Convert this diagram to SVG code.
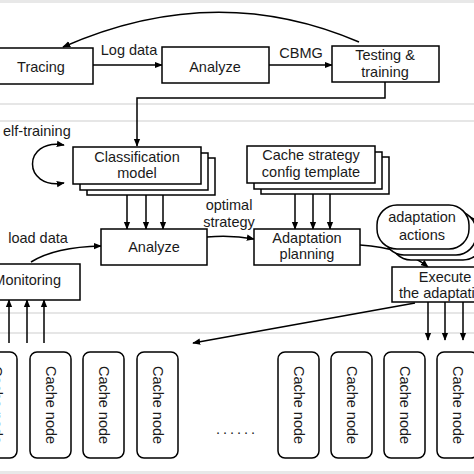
<svg xmlns="http://www.w3.org/2000/svg" width="474" height="474" viewBox="0 0 474 474">
<style>
.box{fill:#fff;stroke:#000;stroke-width:1.5}
.ln{fill:none;stroke:#000;stroke-width:1.5}
.t{font-family:"Liberation Sans",Arial,sans-serif;font-size:14.5px;fill:#1a1a1a;text-anchor:middle}
.g{stroke:#e6e6e6;stroke-width:2}
</style>
<defs>
<marker id="ah" viewBox="0 0 10 10" refX="9" refY="5" markerWidth="8" markerHeight="8" markerUnits="userSpaceOnUse" orient="auto-start-reverse">
<path d="M0,1 L10,5 L0,9 z" fill="#000"/>
</marker>
</defs>
<rect x="0" y="0" width="474" height="474" fill="#fff"/>
<g id="background">
<rect x="0" y="0" width="474" height="3" fill="#e8e8e8"/>
<line class="g" x1="0" y1="104" x2="474" y2="104"/>
<line class="g" x1="0" y1="121" x2="474" y2="121"/>
<line class="g" x1="0" y1="313" x2="474" y2="313"/>
<line class="g" x1="0" y1="333" x2="474" y2="333"/>
<rect x="0" y="471" width="474" height="3" fill="#e8e8e8"/>
</g>
<g id="connectors">
<path class="ln" d="M359 42 Q215 -20 63 47" marker-end="url(#ah)"/>
<line class="ln" x1="93" y1="65" x2="162" y2="65" marker-end="url(#ah)"/>
<line class="ln" x1="269" y1="65" x2="332" y2="65" marker-end="url(#ah)"/>
<path class="ln" d="M385 82 V98 H137 V146" marker-end="url(#ah)"/>
<path class="ln" d="M64 145 C22 138 22 190 64 183" marker-start="url(#ah)" marker-end="url(#ah)"/>
<line class="ln" x1="127" y1="195" x2="127" y2="229" marker-end="url(#ah)"/>
<line class="ln" x1="146" y1="195" x2="146" y2="229" marker-end="url(#ah)"/>
<line class="ln" x1="163" y1="195" x2="163" y2="229" marker-end="url(#ah)"/>
<line class="ln" x1="295" y1="194" x2="295" y2="229" marker-end="url(#ah)"/>
<line class="ln" x1="313" y1="194" x2="313" y2="229" marker-end="url(#ah)"/>
<line class="ln" x1="330" y1="194" x2="330" y2="229" marker-end="url(#ah)"/>
<path class="ln" d="M31 262 Q55 247 101 246" marker-end="url(#ah)"/>
<path class="ln" d="M207 237 Q232 235 254 239" marker-end="url(#ah)"/>
<path class="ln" d="M360 245 Q405 248 428 267" marker-end="url(#ah)"/>
<line class="ln" x1="9" y1="343" x2="9" y2="300" marker-end="url(#ah)"/>
<line class="ln" x1="27" y1="343" x2="27" y2="300" marker-end="url(#ah)"/>
<line class="ln" x1="44" y1="343" x2="44" y2="300" marker-end="url(#ah)"/>
<line class="ln" x1="428" y1="302" x2="428" y2="340" marker-end="url(#ah)"/>
<line class="ln" x1="445" y1="302" x2="445" y2="340" marker-end="url(#ah)"/>
<line class="ln" x1="463" y1="302" x2="463" y2="340" marker-end="url(#ah)"/>
<line class="ln" x1="415" y1="303" x2="193" y2="343" marker-end="url(#ah)"/>
</g>
<g id="tracing"><rect class="box" x="-10" y="48" width="103" height="36"/><text class="t" x="41" y="72">Tracing</text></g>
<text class="t" x="129" y="55">Log data</text>
<g id="analyze1"><rect class="box" x="162" y="47" width="107" height="36"/><text class="t" x="215" y="72">Analyze</text></g>
<text class="t" x="301" y="58">CBMG</text>
<g id="testing"><rect class="box" x="332" y="46" width="107" height="36"/><text class="t" x="385" y="60">Testing &amp;</text><text class="t" x="385" y="77">training</text></g>
<text class="t" x="3" y="136" style="text-anchor:start">elf-training</text>
<g id="classification">
<rect class="box" x="87" y="158" width="128" height="37"/>
<rect class="box" x="80" y="153" width="128" height="37"/>
<rect class="box" x="73" y="147" width="128" height="37"/>
<text class="t" x="137" y="162">Classification</text><text class="t" x="137" y="178">model</text>
</g>
<g id="cachetemplate">
<rect class="box" x="261" y="157" width="128" height="37"/>
<rect class="box" x="254" y="152" width="128" height="37"/>
<rect class="box" x="247" y="146" width="128" height="37"/>
<text class="t" x="311" y="160">Cache strategy</text><text class="t" x="311" y="177">config template</text>
</g>
<text class="t" x="229" y="210">optimal</text>
<text class="t" x="229" y="227">strategy</text>
<text class="t" x="38" y="243">load data</text>
<g id="analyze2"><rect class="box" x="101" y="229" width="106" height="36"/><text class="t" x="154" y="252">Analyze</text></g>
<g id="adaptplanning"><rect class="box" x="254" y="229" width="106" height="36"/><text class="t" x="307" y="243">Adaptation</text><text class="t" x="307" y="259">planning</text></g>
<g id="adaptactions">
<rect class="box" x="391" y="216" width="92" height="44" rx="20"/>
<rect class="box" x="384" y="211" width="92" height="44" rx="20"/>
<rect class="box" x="377" y="205" width="92" height="44" rx="20"/>
<text class="t" x="422" y="222">adaptation</text><text class="t" x="422" y="240">actions</text>
</g>
<g id="monitoring"><rect class="box" x="-20" y="264" width="100" height="36"/><text class="t" x="61" y="285" style="text-anchor:end">Monitoring</text></g>
<g id="execute"><rect class="box" x="392" y="267" width="112" height="35"/><text class="t" x="445" y="282">Execute</text><text class="t" x="445" y="298">the adaptation</text></g>
<g id="cachenodes">
<g id="cn1"><rect class="box" x="-24" y="352" width="41" height="106" rx="7"/><text class="t" transform="translate(-3.5 405) rotate(90)" dy="5">Cache node</text></g>
<g id="cn2"><rect class="box" x="30" y="352" width="41" height="106" rx="7"/><text class="t" transform="translate(50.5 405) rotate(90)" dy="5">Cache node</text></g>
<g id="cn3"><rect class="box" x="83" y="352" width="41" height="106" rx="7"/><text class="t" transform="translate(103.5 405) rotate(90)" dy="5">Cache node</text></g>
<g id="cn4"><rect class="box" x="137" y="352" width="41" height="106" rx="7"/><text class="t" transform="translate(157.5 405) rotate(90)" dy="5">Cache node</text></g>
<g id="cn5"><rect class="box" x="278" y="352" width="41" height="106" rx="7"/><text class="t" transform="translate(298.5 405) rotate(90)" dy="5">Cache node</text></g>
<g id="cn6"><rect class="box" x="331" y="352" width="41" height="106" rx="7"/><text class="t" transform="translate(351.5 405) rotate(90)" dy="5">Cache node</text></g>
<g id="cn7"><rect class="box" x="384" y="352" width="41" height="106" rx="7"/><text class="t" transform="translate(404.5 405) rotate(90)" dy="5">Cache node</text></g>
<g id="cn8"><rect class="box" x="437" y="352" width="41" height="106" rx="7"/><text class="t" transform="translate(457.5 405) rotate(90)" dy="5">Cache node</text></g>
</g>
<text class="t" x="237" y="434" style="letter-spacing:3px">......</text>
</svg>
